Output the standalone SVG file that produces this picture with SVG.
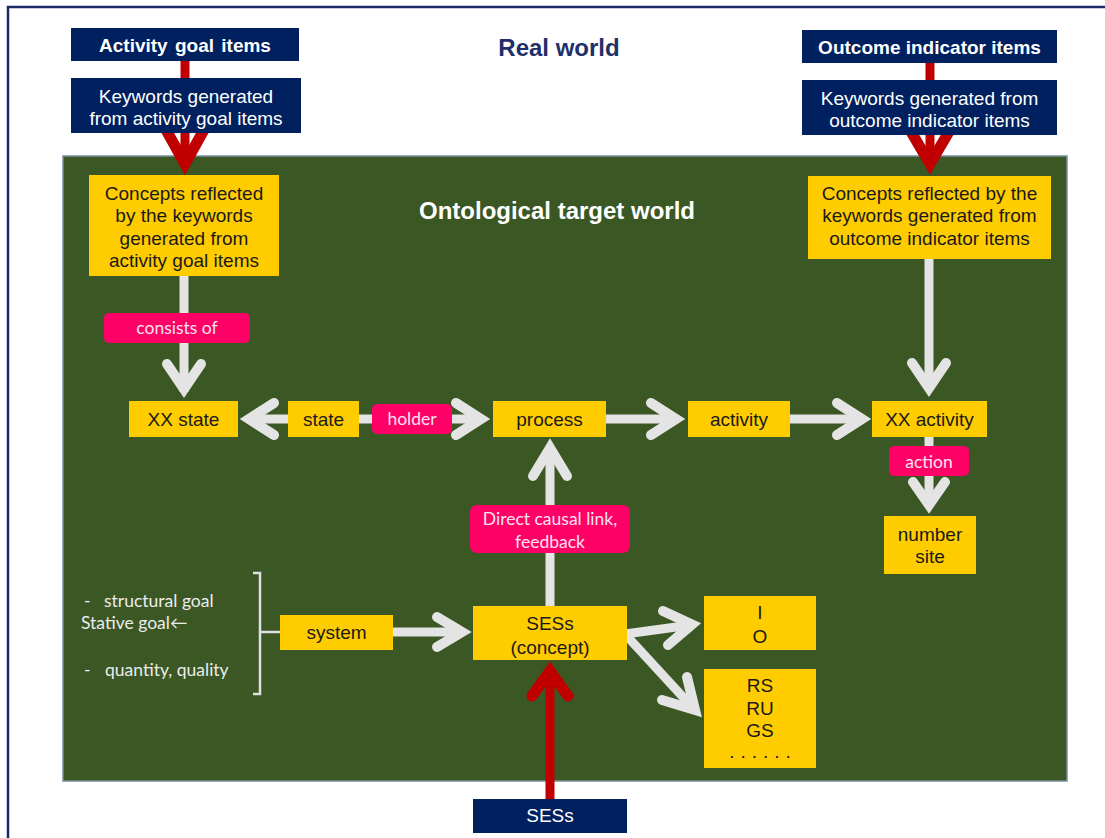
<svg xmlns="http://www.w3.org/2000/svg" width="1105" height="838" viewBox="0 0 1105 838">
<style>
.navy{fill:#002060}
.yel{fill:#ffcc00}
.pink{fill:#ff0066}
.tw{font-family:"Liberation Sans",Arial,sans-serif;font-size:19px;fill:#ffffff;text-anchor:middle}
.tb{font-family:"Liberation Sans",Arial,sans-serif;font-size:19px;fill:#1a1a1a;text-anchor:middle}
.tp{font-family:Lato,"Noto Sans",sans-serif;font-size:17.5px;fill:#fbe3f0;text-anchor:middle}
.tl{font-family:Lato,"Noto Sans",sans-serif;font-size:17.5px;fill:#ececec}
.gs{stroke:#e4e4e4;stroke-width:9;fill:none}
.gh{stroke:#e4e4e4;stroke-width:10;fill:none;stroke-linecap:round;stroke-linejoin:miter}
.rs{stroke:#c00000;stroke-width:9;fill:none}
.rh{stroke:#c00000;stroke-width:11;fill:none;stroke-linecap:round;stroke-linejoin:miter}
</style>
<rect x="0" y="0" width="1105" height="838" fill="#ffffff"/>
<path d="M8,838 V7 H1105" fill="none" stroke="#1b2a66" stroke-width="2.5"/>
<rect id="ontological-world" x="63" y="156" width="1004" height="625" fill="#3b5724" stroke="#7a8ea0" stroke-width="1.5"/>
<text x="559" y="56" font-family="Liberation Sans,Arial,sans-serif" font-size="24" font-weight="bold" fill="#1f2f6a" text-anchor="middle">Real world</text>
<text x="557" y="218.5" font-family="Liberation Sans,Arial,sans-serif" font-size="24" font-weight="bold" fill="#ffffff" text-anchor="middle">Ontological target world</text>

<g id="connectors">
  <!-- red inputs -->
  <line class="rs" x1="185" y1="58" x2="185" y2="82"/>
  <line class="rs" x1="185" y1="130" x2="185" y2="160"/>
  <polyline class="rh" points="165,128 185,164 205,128"/>
  <line class="rs" x1="930" y1="60" x2="930" y2="84"/>
  <line class="rs" x1="930" y1="132" x2="930" y2="160"/>
  <polyline class="rh" points="910,130 930,164 950,130"/>
  <line class="rs" x1="550" y1="800" x2="550" y2="674"/>
  <polyline class="rh" points="532,696 550,671 568,696"/>
  <!-- grey relations -->
  <line class="gs" x1="184" y1="276" x2="184" y2="392"/>
  <polyline class="gh" points="167,364 184,389 201,364"/>
  <line class="gs" x1="929" y1="259" x2="929" y2="390"/>
  <polyline class="gh" points="912,363 929,388 946,363"/>
  <line class="gs" x1="289" y1="419" x2="250" y2="419"/>
  <polyline class="gh" points="274,403 249,419 274,435"/>
  <line class="gs" x1="358" y1="419" x2="480" y2="419"/>
  <polyline class="gh" points="456,403 481,419 456,435"/>
  <line class="gs" x1="606" y1="419" x2="675" y2="419"/>
  <polyline class="gh" points="651,403 676,419 651,435"/>
  <line class="gs" x1="790" y1="419" x2="861" y2="419"/>
  <polyline class="gh" points="837,403 862,419 837,435"/>
  <line class="gs" x1="929" y1="437" x2="929" y2="504"/>
  <polyline class="gh" points="913,482 929,505 945,482"/>
  <line class="gs" x1="550" y1="606" x2="550" y2="450"/>
  <polyline class="gh" points="533,476 550,448 567,476"/>
  <line class="gs" x1="392" y1="632" x2="461" y2="632"/>
  <polyline class="gh" points="437,617 462,632 437,647"/>
  <line class="gs" x1="625" y1="634" x2="691" y2="625"/>
  <polyline class="gh" points="663,611 692,624.5 668,645"/>
  <line class="gs" x1="625" y1="634" x2="694" y2="709"/>
  <polyline class="gh" points="662,700 695,710 687,677"/>
  <!-- bracket -->
  <path d="M253,573 H260 V694 H253 M260,632 H281" fill="none" stroke="#e0e0e0" stroke-width="2.5"/>
</g>

<g id="activity-goal-items"><rect class="navy" x="71" y="28" width="228" height="33"/><text class="tw" x="185" y="51.5" font-weight="bold" font-size="18.5" word-spacing="2">Activity goal items</text></g>
<g id="keywords-activity"><rect class="navy" x="71" y="78" width="230" height="55"/><text class="tw" x="186" y="102.5">Keywords generated</text><text class="tw" x="186" y="124.5">from activity goal items</text></g>
<g id="concepts-activity"><rect class="yel" x="89" y="175" width="190" height="101"/><text class="tb" x="184" y="199.5">Concepts reflected</text><text class="tb" x="184" y="222">by the keywords</text><text class="tb" x="184" y="244.5">generated from</text><text class="tb" x="184" y="267">activity goal items</text></g>
<g id="outcome-indicator-items"><rect class="navy" x="802" y="30" width="255" height="33"/><text class="tw" x="929.5" y="53.5" font-weight="bold" font-size="18.5">Outcome indicator items</text></g>
<g id="keywords-outcome"><rect class="navy" x="802" y="80" width="255" height="55"/><text class="tw" x="929.5" y="104.5">Keywords generated from</text><text class="tw" x="929.5" y="126.5">outcome indicator items</text></g>
<g id="concepts-outcome"><rect class="yel" x="808" y="176" width="243" height="83"/><text class="tb" x="929.5" y="199.5">Concepts reflected by the</text><text class="tb" x="929.5" y="222">keywords generated from</text><text class="tb" x="929.5" y="244.5">outcome indicator items</text></g>
<g id="consists-of"><rect class="pink" x="104" y="313" width="146" height="30" rx="5"/><text class="tp" x="177" y="333.5">consists of</text></g>
<g id="xx-state"><rect class="yel" x="129" y="401" width="109" height="36"/><text class="tb" x="183.5" y="425.5">XX state</text></g>
<g id="state"><rect class="yel" x="288" y="401" width="71" height="36"/><text class="tb" x="323.5" y="425.5">state</text></g>
<g id="holder"><rect class="pink" x="372" y="404" width="80" height="30" rx="5"/><text class="tp" x="412" y="424.5">holder</text></g>
<g id="process"><rect class="yel" x="493" y="401" width="113" height="36"/><text class="tb" x="549.5" y="425.5">process</text></g>
<g id="activity"><rect class="yel" x="688" y="401" width="102" height="36"/><text class="tb" x="739" y="425.5">activity</text></g>
<g id="xx-activity"><rect class="yel" x="872" y="401" width="115" height="36"/><text class="tb" x="929.5" y="425.5">XX activity</text></g>
<g id="action"><rect class="pink" x="889" y="446" width="80" height="30" rx="5"/><text class="tp" x="929" y="467.5">action</text></g>
<g id="number-site"><rect class="yel" x="884" y="516" width="92" height="58"/><text class="tb" x="930" y="540.5">number</text><text class="tb" x="930" y="562.5">site</text></g>
<g id="direct-causal-link"><rect class="pink" x="470" y="505" width="160" height="48" rx="7"/><text class="tp" x="550" y="524.5">Direct causal link,</text><text class="tp" x="550" y="547.5">feedback</text></g>
<g id="goal-notes"><text class="tl" x="84" y="607">-</text><text class="tl" x="104" y="607">structural goal</text><text class="tl" x="81" y="629">Stative goal←</text><text class="tl" x="84" y="676">-</text><text class="tl" x="105" y="676">quantity, quality</text></g>
<g id="system"><rect class="yel" x="280" y="615" width="113" height="35"/><text class="tb" x="336.5" y="638.5">system</text></g>
<g id="sess-concept"><rect class="yel" x="473" y="606" width="154" height="54"/><text class="tb" x="550" y="629.5">SESs</text><text class="tb" x="550" y="653.5">(concept)</text></g>
<g id="io"><rect class="yel" x="704" y="596" width="112" height="54"/><text class="tb" x="760" y="618.5">I</text><text class="tb" x="760" y="642.5">O</text></g>
<g id="rs-ru-gs"><rect class="yel" x="704" y="669" width="112" height="99"/><text class="tb" x="760" y="691.5">RS</text><text class="tb" x="760" y="714.5">RU</text><text class="tb" x="760" y="737">GS</text><text class="tb" x="763" y="758" font-size="13" letter-spacing="6">......</text></g>
<g id="sess"><rect class="navy" x="473" y="799" width="154" height="34"/><text class="tw" x="550" y="821.5">SESs</text></g>
</svg>
